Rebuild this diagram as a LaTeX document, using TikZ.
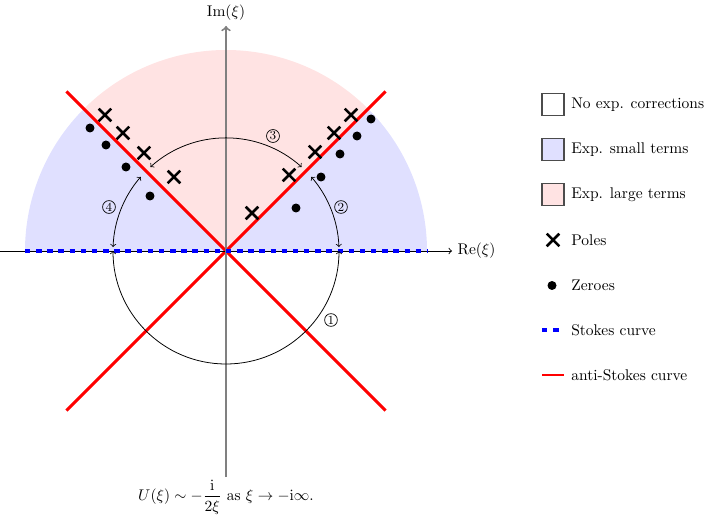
\documentclass[tikz,border=0pt]{standalone}
\usepackage{amsmath}
\usetikzlibrary{shapes.misc}
\begin{document}
\begin{tikzpicture}[x=0.645pt,y=0.645pt,
  antistokes/.style={red, line width=1.9pt},
  stokesline/.style={blue, line width=2.5pt, dash pattern=on 3.5pt off 3.7pt},
  regionarc/.style={<->, line width=0.5pt},
  polemk/.style={cross out, draw, line width=1.6pt, minimum size=6.6pt, inner sep=0pt},
  zeromk/.style={circle, fill, minimum size=5.8pt, inner sep=0pt},
  circnum/.style={circle, draw, line width=0.45pt, inner sep=0.5pt, font=\footnotesize},
  legbox/.style={draw=black!70, line width=0.8pt, minimum size=14.2pt, inner sep=0pt},
  legtext/.style={anchor=west, inner sep=0pt}]
\useasboundingbox (-226,-270) rectangle (480,251);
% regions
\fill[blue!12] (0,0) -- (201,0) arc[start angle=0,end angle=45,radius=201] -- cycle;
\fill[red!11] (0,0) -- (45:201) arc[start angle=45,end angle=135,radius=201] -- cycle;
\fill[blue!12] (0,0) -- (135:201) arc[start angle=135,end angle=180,radius=201] -- cycle;
% anti-Stokes lines
\coordinate (asA1) at (-159.5,159.5);
\coordinate (asA2) at (159.5,-159.5);
\coordinate (asB1) at (159.5,159.5);
\coordinate (asB2) at (-159.5,-159.5);
\draw[antistokes] (asA1) -- (asA2);
\draw[antistokes] (asB1) -- (asB2);
% axes
\coordinate (xl) at (-226,0);
\coordinate (xr) at (226,0);
\coordinate (yb) at (0,-226);
\coordinate (yt) at (0,225);
\draw[->, line width=0.6pt] (xl) -- (xr) node[right] (relab) {$\mathrm{Re}(\xi)$};
\draw[->, gray, line width=1.2pt] (yb) -- (yt);
\node[above] (imlab) at (yt) {$\mathrm{Im}(\xi)$};
% Stokes curve
\coordinate (st1) at (-201,0);
\coordinate (st2) at (201,0);
\draw[stokesline] (st1) -- (st2);
% arcs
\draw[regionarc] (180:113) arc[start angle=180,end angle=360,radius=113];
\draw[regionarc] (2:113) arc[start angle=2,end angle=41,radius=113];
\draw[regionarc] (48:113) arc[start angle=48,end angle=132,radius=113];
\draw[regionarc] (139:113) arc[start angle=139,end angle=178,radius=113];
\node[circnum] (n1) at (105,-69) {1};
\node[circnum] (n2) at (115,44) {2};
\node[circnum] (n3) at (47,115) {3};
\node[circnum] (n4) at (-117,44) {4};
% poles
\node[polemk] (pL1) at (-121,136) {};
\node[polemk] (pL2) at (-103,118) {};
\node[polemk] (pL3) at (-82,98) {};
\node[polemk] (pL4) at (-52,74) {};
\node[polemk] (pR1) at (26,38) {};
\node[polemk] (pR2) at (63,76) {};
\node[polemk] (pR3) at (89,99) {};
\node[polemk] (pR4) at (108,118) {};
\node[polemk] (pR5) at (125,136) {};
% zeroes
\node[zeromk] (zL1) at (-136,123) {};
\node[zeromk] (zL2) at (-120,106) {};
\node[zeromk] (zL3) at (-100,84) {};
\node[zeromk] (zL4) at (-76,55) {};
\node[zeromk] (zR1) at (70,43) {};
\node[zeromk] (zR2) at (95,74) {};
\node[zeromk] (zR3) at (114,97) {};
\node[zeromk] (zR4) at (131,115) {};
\node[zeromk] (zR5) at (145,132) {};
% caption
\node (cap) at (0,-246) {$U(\xi) \sim -\dfrac{\mathrm{i}}{2\xi}$ as $\xi \to -\mathrm{i}\infty$.};
% legend
\node[legbox, fill=white] (lb1) at (327,146.5) {};
\node[legtext] (lt1) at (345,146.5) {No exp. corrections};
\node[legbox, fill=blue!12] (lb2) at (327,101.5) {};
\node[legtext] (lt2) at (345,101.5) {Exp. small terms};
\node[legbox, fill=red!11] (lb3) at (327,56.5) {};
\node[legtext] (lt3) at (345,56.5) {Exp. large terms};
\node[polemk] (lb4) at (327,11) {};
\node[legtext] (lt4) at (345,11) {Poles};
\node[zeromk] (lb5) at (326,-34.5) {};
\node[legtext] (lt5) at (345,-34.5) {Zeroes};
\coordinate (ls1) at (316,-79);
\coordinate (ls2) at (338,-79);
\draw[stokesline] (ls1) -- (ls2);
\node[legtext] (lt6) at (345,-79) {Stokes curve};
\coordinate (la1) at (316,-124);
\coordinate (la2) at (338,-124);
\draw[antistokes] (la1) -- (la2);
\node[legtext] (lt7) at (345,-124) {anti-Stokes curve};
\end{tikzpicture}
\end{document}
